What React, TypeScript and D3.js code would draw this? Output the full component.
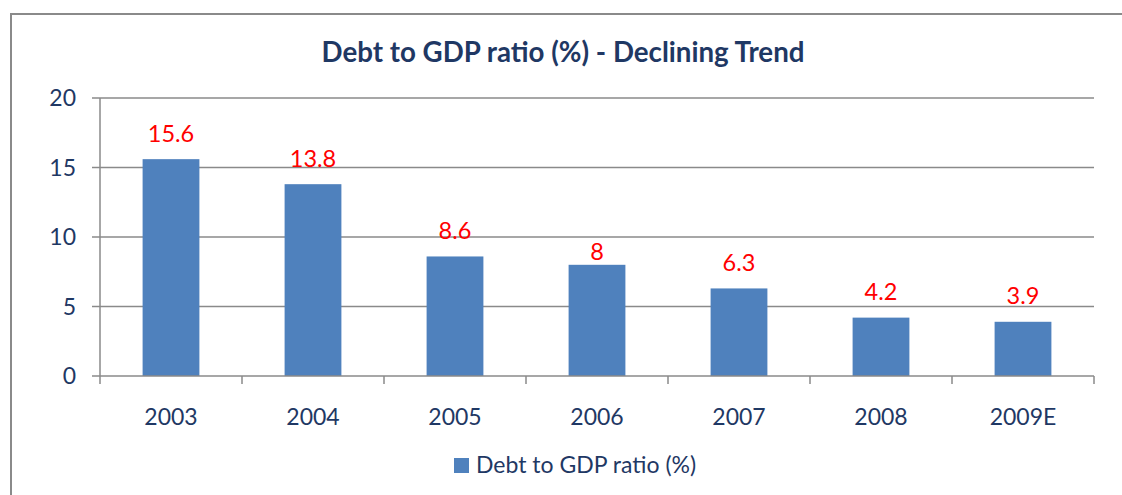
import React from "react";
import * as d3 from "d3";

const categories: string[] = ["2003", "2004", "2005", "2006", "2007", "2008", "2009E"];
const values: number[] = [15.6, 13.8, 8.6, 8, 6.3, 4.2, 3.9];
const yTicks: number[] = [0, 5, 10, 15, 20];
const title = "Debt to GDP ratio (%) - Declining Trend";
const seriesName = "Debt to GDP ratio (%)";

const W = 1122;
const H = 495;
const FONT = "Lato, 'Open Sans', sans-serif";
const NAVY = "#1F3864";
const BAR = "#4F81BD";
const GRID = "#8A8A8A";

export default function App() {
  const left = 100, right = 1094, top = 98, bottom = 376;
  const x = d3.scaleBand<string>().domain(categories).range([left, right]).paddingInner(0.6).paddingOuter(0.3);
  const y = d3.scaleLinear().domain([0, 20]).range([bottom, top]);
  const step = x.step();
  const labelGap = (c: string) => (c === "2006" ? 5 : 17.5);
  const boundaries = d3.range(categories.length + 1).map((i) => left + i * step);

  return (
    <svg width={W} height={H} style={{ position: "absolute", left: 0, top: 0, background: "#fff" }} fontFamily={FONT}>
      <rect x={11} y={14} width={1130} height={500} fill="#fff" stroke={GRID} strokeWidth={2} />
      <text x={563} y={62} textAnchor="middle" fontSize={27.7} fontWeight="bold" fill={NAVY}>
        {title}
      </text>
      {yTicks.map((t) => (
        <g key={t}>
          {t > 0 && <line x1={left} x2={right} y1={y(t)} y2={y(t)} stroke={GRID} strokeWidth={1.5} />}
          <line x1={left - 8} x2={left} y1={y(t)} y2={y(t)} stroke={GRID} strokeWidth={1.5} />
          <text x={76} y={y(t)} dy="0.36em" textAnchor="end" fontSize={23} fill={NAVY}>
            {t}
          </text>
        </g>
      ))}
      {categories.map((c, i) => (
        <g key={c}>
          <rect x={x(c)} y={y(values[i])} width={x.bandwidth()} height={y(0) - y(values[i])} fill={BAR} />
          <text x={(x(c) as number) + x.bandwidth() / 2} y={y(values[i]) - labelGap(c)} textAnchor="middle" fontSize={23.5} fill="#FF0000">
            {values[i]}
          </text>
          <text x={(x(c) as number) + x.bandwidth() / 2} y={425} textAnchor="middle" fontSize={23} fill={NAVY}>
            {c}
          </text>
        </g>
      ))}
      <line x1={left} x2={left} y1={top} y2={bottom} stroke={GRID} strokeWidth={1.5} />
      <line x1={left} x2={right} y1={bottom} y2={bottom} stroke={GRID} strokeWidth={1.5} />
      {boundaries.map((b, i) => (
        <line key={i} x1={b} x2={b} y1={bottom} y2={bottom + 8} stroke={GRID} strokeWidth={1.5} />
      ))}
      <rect x={454} y={458} width={15} height={15} fill={BAR} />
      <text x={476} y={473} fontSize={23} fill={NAVY}>
        {seriesName}
      </text>
    </svg>
  );
}
